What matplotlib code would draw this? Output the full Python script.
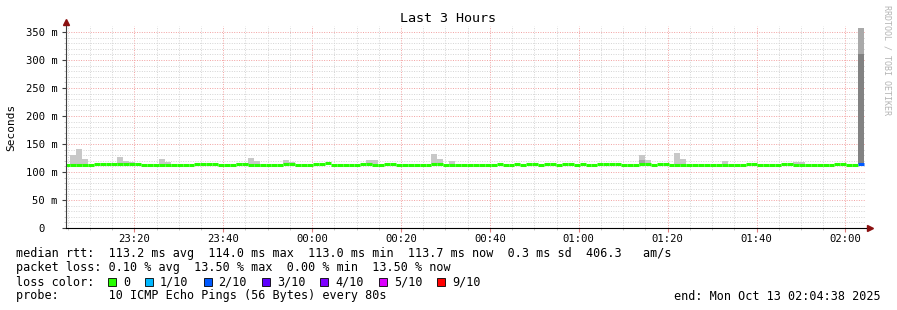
import numpy as np
import matplotlib.pyplot as plt
from matplotlib.patches import Rectangle

# ---------------------------------------------------------------------------
# dados (passos de 80 s, o primeiro comeca 23:04:12)
# ---------------------------------------------------------------------------
inicio_passo = 4.2          # minutos depois das 23:00
passo = 80 / 60.0           # minutos
inicio_grafico = 4 + 38 / 60.0
fim_grafico = 184 + 38 / 60.0

median_rtt = [
    113, 113, 113, 113, 113, 114.5, 114.5, 114.5, 114.5, 114.5, 114.5, 114.5, 114.5, 113, 113,
    113, 113, 113, 113, 113, 113, 113, 114.5, 114.5, 114.5, 114.5, 113, 113, 113, 114.5,
    114.5, 113, 113, 113, 113, 113, 113, 114.5, 114.5, 113, 113, 113, 114.5, 114.5, 115.2,
    113, 113, 113, 113, 113, 114.5, 114.5, 113, 113, 114.5, 114.5, 113, 113, 113, 113,
    113, 113, 114.5, 114.5, 113, 113, 113, 113, 113, 113, 113, 113, 113, 114.5, 113,
    113, 114.5, 113, 114.5, 114.5, 113, 114.5, 114.5, 113, 114.5, 114.5, 113, 114.5, 113, 113,
    114.5, 114.5, 114.5, 114.5, 113, 113, 113, 114.5, 114.5, 113, 114.5, 114.5, 113, 113, 113,
    113, 113, 113, 113, 113, 113, 113, 113, 113, 113, 114.5, 114.5, 113, 113, 113,
    113, 114.5, 114.5, 113, 113, 113, 113, 113, 113, 113, 114.5, 114.5, 113, 113, 113.7,
]

perda_passos = [134]
perda_pct = [13.5]

fumaca_passos = [1, 2, 3, 9, 10, 11, 12, 16, 17, 29, 30, 31, 32, 37, 38, 51, 52,
                 62, 63, 65, 97, 98, 103, 104, 111, 123, 124, 134]
fumaca_max = [130, 141, 123, 127, 120, 118, 116, 123, 118, 116, 116, 125, 120, 121, 118, 121, 121,
              132, 123, 120, 130, 121, 134, 123, 120, 118, 117, 357]
fumaca_escura_passos = [97, 134]
fumaca_escura_topo = [121, 311]

tick_labels = ["23:20", "23:40", "00:00", "00:20", "00:40", "01:00", "01:20", "01:40", "02:00"]
y_labels = ["0  ", "50 m", "100 m", "150 m", "200 m", "250 m", "300 m", "350 m"]

perda_limites = [0, 1, 2, 3, 4, 5, 10]
perda_nomes = ["0", "1/10", "2/10", "3/10", "4/10", "5/10", "9/10"]
perda_cores = ["#26ff00", "#00b8ff", "#0059ff", "#5e00ff", "#7e00ff", "#dd00ff", "#ff0000"]

linha1 = "median rtt:  113.2 ms avg  114.0 ms max  113.0 ms min  113.7 ms now  0.3 ms sd  406.3   am/s"
linha2 = "packet loss: 0.10 % avg  13.50 % max  0.00 % min  13.50 % now"
linha4 = "probe:       10 ICMP Echo Pings (56 Bytes) every 80s"
fim_texto = "end: Mon Oct 13 02:04:38 2025"

# ---------------------------------------------------------------------------
W, H = 897, 310
plt.rcParams['font.family'] = 'DejaVu Sans Mono'

fig = plt.figure(figsize=(W / 100, H / 100), dpi=100)


def fy(py):
    return 1 - py / H


ax = fig.add_axes([66 / W, 1 - 228 / H, 800 / W, 202 / H])

n = len(median_rtt)
esquerda = inicio_passo + passo * np.arange(n)
median_rtt = np.array(median_rtt)

# fumaca (clara e escura)
for k, topo in zip(fumaca_passos, fumaca_max):
    cor = '#a9a9a9' if k == 134 else '#c8c8c8'
    ax.bar(esquerda[k], topo - median_rtt[k], bottom=median_rtt[k], width=passo,
           align='edge', color=cor, linewidth=0, zorder=2)
for k, topo in zip(fumaca_escura_passos, fumaca_escura_topo):
    cor = '#828282' if k == 134 else '#a6a6a6'
    ax.bar(esquerda[k], topo - median_rtt[k], bottom=median_rtt[k], width=passo,
           align='edge', color=cor, linewidth=0, zorder=2)

# linha mediana colorida pela perda
perda = np.zeros(n)
perda[perda_passos] = perda_pct
cores = []
for p in perda:
    perdidos = p / 10.0
    i = 0
    while perdidos > perda_limites[i]:
        i += 1
    cores.append(perda_cores[i])
ax.hlines(median_rtt, esquerda, esquerda + passo, colors=cores, linewidth=2.2, zorder=3)

ax.set_xlim(inicio_grafico, fim_grafico)
ax.set_ylim(0, 360.7)

ax.set_xticks([20 * (i + 1) for i in range(len(tick_labels))])
ax.set_xticklabels(tick_labels)
ax.set_xticks(np.arange(5, 185, 5), minor=True)
ax.set_yticks([50 * i for i in range(len(y_labels))])
ax.set_yticklabels(y_labels)
ax.set_yticks(np.arange(0, 360, 10), minor=True)

ax.grid(which='minor', color='#d4d4d4', linestyle=(0, (1, 1.5)), linewidth=0.7, zorder=0)
ax.grid(which='major', color='#f2a0a0', linestyle=(0, (1, 1.5)), linewidth=0.7, zorder=1)
ax.set_axisbelow(True)

for lado in ['top', 'right']:
    ax.spines[lado].set_visible(False)
ax.spines['left'].set_color('#404040')
ax.spines['bottom'].set_color('#000000')
ax.spines['left'].set_zorder(4)
ax.spines['bottom'].set_zorder(4)

ax.tick_params(axis='both', which='major', labelsize=7.6, length=2.9, width=0.8)
ax.tick_params(axis='x', which='major', colors='#e08080', labelcolor='black', pad=1.3)
ax.tick_params(axis='y', which='major', colors='#404040', labelcolor='black', pad=2.9)
ax.tick_params(axis='both', which='minor', length=1.5, width=0.6, colors='#c0c0c0')

# setas dos eixos
ax.plot([0], [1.02], marker='^', color='#8b1010', markersize=4, transform=ax.transAxes, clip_on=False)
ax.plot([1.005], [0], marker='>', color='#8b1010', markersize=4, transform=ax.transAxes, clip_on=False)

# textos
fig.text(448 / W, fy(19), "Last 3 Hours", ha='center', va='center', fontsize=9.6)
fig.text(11 / W, fy(127), "Seconds", rotation=90, ha='center', va='center', fontsize=8)
fig.text(887 / W, fy(5), "RRDTOOL / TOBI OETIKER", rotation=270, ha='center', va='top',
         fontsize=6, color='#b4b4b4')

tam = 8.5
fig.text(16 / W, fy(254), linha1, ha='left', va='center', fontsize=tam)
fig.text(16 / W, fy(268), linha2, ha='left', va='center', fontsize=tam)
fig.text(16 / W, fy(282), "loss color:", ha='left', va='center', fontsize=tam)
fig.text(16 / W, fy(296), linha4, ha='left', va='center', fontsize=tam)
fig.text(881 / W, fy(296), fim_texto, ha='right', va='center', fontsize=tam)

x = 108.0
for nome, cor in zip(perda_nomes, perda_cores):
    fig.add_artist(Rectangle((x / W, fy(286)), 8 / W, 8 / H, transform=fig.transFigure,
                             facecolor=cor, edgecolor='black', linewidth=0.6))
    fig.text((x + 15) / W, fy(282), nome, ha='left', va='center', fontsize=tam)
    x = x + 15 + len(nome) * 7.1 + 15

fig.savefig('out.png', dpi=100)
